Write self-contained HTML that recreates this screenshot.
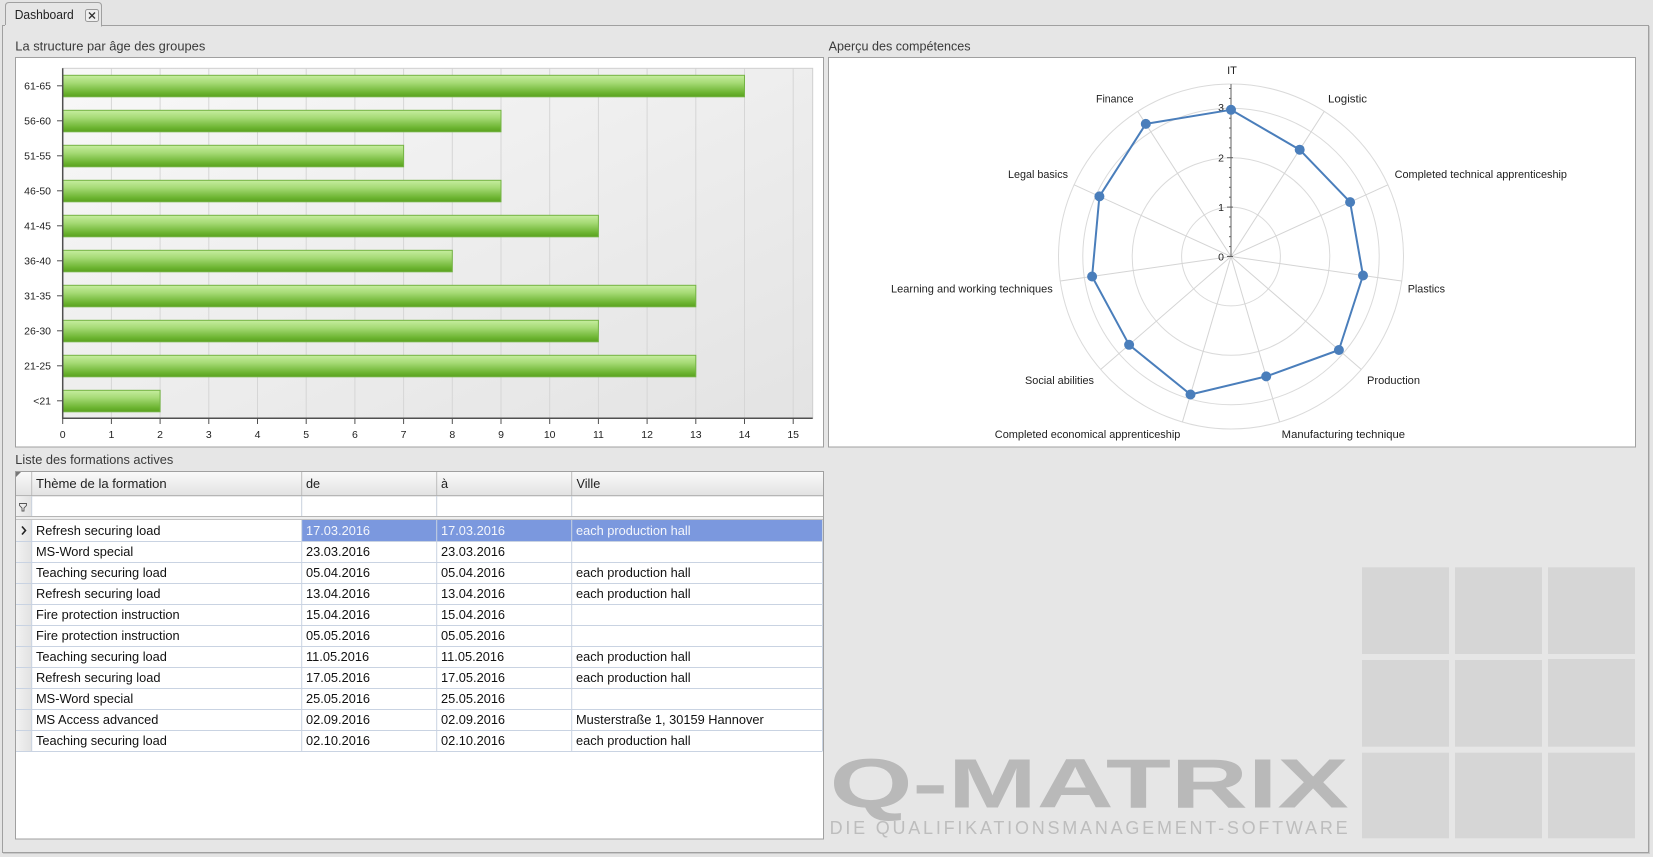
<!DOCTYPE html>
<html><head><meta charset="utf-8"><style>
html,body{margin:0;padding:0;background:#e4e4e4;}
svg{display:block;font-family:"Liberation Sans",sans-serif;}
</style></head><body>
<svg width="1653" height="857" viewBox="0 0 1653 857" xmlns="http://www.w3.org/2000/svg">
<defs>
<linearGradient id="bar" x1="0" y1="0" x2="0" y2="1">
<stop offset="0" stop-color="#c6ed9f"/><stop offset="0.35" stop-color="#a6da76"/><stop offset="0.8" stop-color="#6db532"/><stop offset="1" stop-color="#5aa11f"/>
</linearGradient>
<linearGradient id="plot" x1="0" y1="0" x2="1" y2="1">
<stop offset="0" stop-color="#f8f8f8"/><stop offset="1" stop-color="#e3e3e3"/>
</linearGradient>
<linearGradient id="hdr" x1="0" y1="0" x2="0" y2="1">
<stop offset="0" stop-color="#fafafa"/><stop offset="1" stop-color="#e2e2e2"/>
</linearGradient>
<linearGradient id="ind" x1="0" y1="0" x2="1" y2="0">
<stop offset="0" stop-color="#f2f2f2"/><stop offset="1" stop-color="#e2e2e2"/>
</linearGradient>
</defs>
<rect x="0" y="0" width="1653" height="857" fill="#e4e4e4"/>
<!-- frame -->
<rect x="3.5" y="26.5" width="1646" height="827" fill="none" stroke="#c8c8c8" stroke-width="1"/>
<rect x="2.5" y="25.5" width="1646" height="827" fill="#e6e6e6" stroke="#a0a0a0" stroke-width="1"/>
<!-- tab -->
<path d="M5.5,26 L5.5,6 Q5.5,2.5 9,2.5 L98,2.5 Q101.5,2.5 101.5,6 L101.5,26 Z" fill="#e6e6e6" stroke="#a0a0a0" stroke-width="1"/>
<rect x="5" y="25" width="96" height="2" fill="#e6e6e6"/>
<text x="14.7" y="19" font-size="12.5" fill="#222" textLength="59" lengthAdjust="spacingAndGlyphs">Dashboard</text>
<rect x="85.5" y="9.5" width="13" height="12" rx="2" fill="#efefef" stroke="#9a9a9a"/>
<path d="M89,12.5 L95,18.5 M95,12.5 L89,18.5" stroke="#333" stroke-width="1.3"/>

<!-- titles -->
<text x="15.3" y="50.5" font-size="12.5" fill="#3a3a3a" textLength="190" lengthAdjust="spacingAndGlyphs">La structure par âge des groupes</text>
<text x="828.6" y="50.5" font-size="12.5" fill="#3a3a3a" textLength="142" lengthAdjust="spacingAndGlyphs">Aperçu des compétences</text>
<text x="15.3" y="464" font-size="12.5" fill="#3a3a3a" textLength="158" lengthAdjust="spacingAndGlyphs">Liste des formations actives</text>

<!-- BAR CHART PANEL -->
<rect x="15.5" y="57.5" width="808" height="389.5" fill="#fff" stroke="#a0a0a0"/>
<rect x="62.7" y="68.3" width="750" height="350" fill="url(#plot)" stroke="#cfcfcf" stroke-width="1"/>
<g stroke="#d6d6d6" stroke-width="1">
<line x1="111.4" y1="68.5" x2="111.4" y2="418"/><line x1="160.1" y1="68.5" x2="160.1" y2="418"/><line x1="208.8" y1="68.5" x2="208.8" y2="418"/><line x1="257.5" y1="68.5" x2="257.5" y2="418"/><line x1="306.2" y1="68.5" x2="306.2" y2="418"/><line x1="354.9" y1="68.5" x2="354.9" y2="418"/><line x1="403.6" y1="68.5" x2="403.6" y2="418"/><line x1="452.3" y1="68.5" x2="452.3" y2="418"/><line x1="501" y1="68.5" x2="501" y2="418"/><line x1="549.7" y1="68.5" x2="549.7" y2="418"/><line x1="598.4" y1="68.5" x2="598.4" y2="418"/><line x1="647.1" y1="68.5" x2="647.1" y2="418"/><line x1="695.8" y1="68.5" x2="695.8" y2="418"/><line x1="744.5" y1="68.5" x2="744.5" y2="418"/><line x1="793.2" y1="68.5" x2="793.2" y2="418"/>
</g>
<g fill="url(#bar)" stroke="#74b344" stroke-width="1">
<rect x="63" y="75.3" width="681.5" height="21.5"/>
<rect x="63" y="110.3" width="438" height="21.5"/>
<rect x="63" y="145.3" width="340.6" height="21.5"/>
<rect x="63" y="180.3" width="438" height="21.5"/>
<rect x="63" y="215.3" width="535.4" height="21.5"/>
<rect x="63" y="250.3" width="389.3" height="21.5"/>
<rect x="63" y="285.3" width="632.8" height="21.5"/>
<rect x="63" y="320.3" width="535.4" height="21.5"/>
<rect x="63" y="355.3" width="632.8" height="21.5"/>
<rect x="63" y="390.3" width="97.1" height="21.5"/>
</g>
<!-- axes -->
<line x1="62.7" y1="68.3" x2="62.7" y2="418.5" stroke="#505050" stroke-width="1.5"/>
<line x1="62" y1="418.3" x2="812.7" y2="418.3" stroke="#505050" stroke-width="1.5"/>
<g stroke="#505050" stroke-width="1">
<line x1="57" y1="85.8" x2="62" y2="85.8"/><line x1="57" y1="120.8" x2="62" y2="120.8"/><line x1="57" y1="155.8" x2="62" y2="155.8"/><line x1="57" y1="190.8" x2="62" y2="190.8"/><line x1="57" y1="225.8" x2="62" y2="225.8"/><line x1="57" y1="260.8" x2="62" y2="260.8"/><line x1="57" y1="295.8" x2="62" y2="295.8"/><line x1="57" y1="330.8" x2="62" y2="330.8"/><line x1="57" y1="365.8" x2="62" y2="365.8"/><line x1="57" y1="400.8" x2="62" y2="400.8"/>
<line x1="62.7" y1="419" x2="62.7" y2="424"/><line x1="111.4" y1="419" x2="111.4" y2="424"/><line x1="160.1" y1="419" x2="160.1" y2="424"/><line x1="208.8" y1="419" x2="208.8" y2="424"/><line x1="257.5" y1="419" x2="257.5" y2="424"/><line x1="306.2" y1="419" x2="306.2" y2="424"/><line x1="354.9" y1="419" x2="354.9" y2="424"/><line x1="403.6" y1="419" x2="403.6" y2="424"/><line x1="452.3" y1="419" x2="452.3" y2="424"/><line x1="501" y1="419" x2="501" y2="424"/><line x1="549.7" y1="419" x2="549.7" y2="424"/><line x1="598.4" y1="419" x2="598.4" y2="424"/><line x1="647.1" y1="419" x2="647.1" y2="424"/><line x1="695.8" y1="419" x2="695.8" y2="424"/><line x1="744.5" y1="419" x2="744.5" y2="424"/><line x1="793.2" y1="419" x2="793.2" y2="424"/>
</g>
<g font-size="10.5" fill="#222" text-anchor="end">
<text x="51" y="89.5">61-65</text><text x="51" y="124.5">56-60</text><text x="51" y="159.5">51-55</text><text x="51" y="194.5">46-50</text><text x="51" y="229.5">41-45</text><text x="51" y="264.5">36-40</text><text x="51" y="299.5">31-35</text><text x="51" y="334.5">26-30</text><text x="51" y="369.5">21-25</text><text x="51" y="404.5">&lt;21</text>
</g>
<g font-size="10.5" fill="#222" text-anchor="middle">
<text x="62.7" y="438">0</text><text x="111.4" y="438">1</text><text x="160.1" y="438">2</text><text x="208.8" y="438">3</text><text x="257.5" y="438">4</text><text x="306.2" y="438">5</text><text x="354.9" y="438">6</text><text x="403.6" y="438">7</text><text x="452.3" y="438">8</text><text x="501" y="438">9</text><text x="549.7" y="438">10</text><text x="598.4" y="438">11</text><text x="647.1" y="438">12</text><text x="695.8" y="438">13</text><text x="744.5" y="438">14</text><text x="793.2" y="438">15</text>
</g>

<!-- RADAR PANEL -->
<rect x="828.5" y="57.5" width="807" height="389.5" fill="#fff" stroke="#a0a0a0"/>
<g fill="none" stroke="#dadada" stroke-width="1">
<circle cx="1231" cy="256.5" r="49.4"/><circle cx="1231" cy="256.5" r="98.8"/><circle cx="1231" cy="256.5" r="148.2"/><circle cx="1231" cy="256.5" r="172.5"/>
</g>
<g stroke="#d4d4d4" stroke-width="1">
<line x1="1231" y1="256.5" x2="1231" y2="84" transform="rotate(32.73 1231 256.5)"/>
<line x1="1231" y1="256.5" x2="1231" y2="84" transform="rotate(65.45 1231 256.5)"/>
<line x1="1231" y1="256.5" x2="1231" y2="84" transform="rotate(98.18 1231 256.5)"/>
<line x1="1231" y1="256.5" x2="1231" y2="84" transform="rotate(130.91 1231 256.5)"/>
<line x1="1231" y1="256.5" x2="1231" y2="84" transform="rotate(163.64 1231 256.5)"/>
<line x1="1231" y1="256.5" x2="1231" y2="84" transform="rotate(196.36 1231 256.5)"/>
<line x1="1231" y1="256.5" x2="1231" y2="84" transform="rotate(229.09 1231 256.5)"/>
<line x1="1231" y1="256.5" x2="1231" y2="84" transform="rotate(261.82 1231 256.5)"/>
<line x1="1231" y1="256.5" x2="1231" y2="84" transform="rotate(294.55 1231 256.5)"/>
<line x1="1231" y1="256.5" x2="1231" y2="84" transform="rotate(327.27 1231 256.5)"/>
</g>
<!-- IT axis -->
<line x1="1231" y1="256.5" x2="1231" y2="84" stroke="#606060" stroke-width="1"/>
<g stroke="#606060" stroke-width="1">
<line x1="1227" y1="256.5" x2="1233" y2="256.5"/><line x1="1227" y1="207.1" x2="1233" y2="207.1"/><line x1="1227" y1="157.7" x2="1233" y2="157.7"/><line x1="1227" y1="108.3" x2="1233" y2="108.3"/>
<line x1="1229" y1="246.6" x2="1231" y2="246.6"/><line x1="1229" y1="236.7" x2="1231" y2="236.7"/><line x1="1229" y1="226.8" x2="1231" y2="226.8"/><line x1="1229" y1="217" x2="1231" y2="217"/>
<line x1="1229" y1="197.2" x2="1231" y2="197.2"/><line x1="1229" y1="187.3" x2="1231" y2="187.3"/><line x1="1229" y1="177.4" x2="1231" y2="177.4"/><line x1="1229" y1="167.6" x2="1231" y2="167.6"/>
<line x1="1229" y1="147.8" x2="1231" y2="147.8"/><line x1="1229" y1="137.9" x2="1231" y2="137.9"/><line x1="1229" y1="128" x2="1231" y2="128"/><line x1="1229" y1="118.2" x2="1231" y2="118.2"/>
<line x1="1229" y1="98.4" x2="1231" y2="98.4"/><line x1="1229" y1="88.5" x2="1231" y2="88.5"/>
</g>
<g font-size="10.5" fill="#222" text-anchor="end">
<text x="1224" y="260.5">0</text><text x="1224" y="211">1</text><text x="1224" y="161.5">2</text><text x="1224" y="111">3</text>
</g>
<polygon points="1231,109.8 1299.7,149.7 1350.1,202.1 1363,275.5 1338.9,350 1266.2,376.4 1190.5,394.5 1129.1,344.8 1092.1,276.5 1099.4,196.4 1145.8,123.9" fill="none" stroke="#4a7ebb" stroke-width="2" stroke-linejoin="round"/>
<g fill="#4a7ebb">
<circle cx="1231" cy="109.8" r="5"/><circle cx="1299.7" cy="149.7" r="5"/><circle cx="1350.1" cy="202.1" r="5"/><circle cx="1363" cy="275.5" r="5"/><circle cx="1338.9" cy="350" r="5"/><circle cx="1266.2" cy="376.4" r="5"/><circle cx="1190.5" cy="394.5" r="5"/><circle cx="1129.1" cy="344.8" r="5"/><circle cx="1092.1" cy="276.5" r="5"/><circle cx="1099.4" cy="196.4" r="5"/><circle cx="1145.8" cy="123.9" r="5"/>
</g>
<g font-size="11" fill="#222">
<text x="1232" y="74" text-anchor="middle">IT</text>
<text x="1096" y="102.3" textLength="37.5" lengthAdjust="spacingAndGlyphs">Finance</text>
<text x="1328" y="102.3" textLength="39" lengthAdjust="spacingAndGlyphs">Logistic</text>
<text x="1008" y="178" textLength="60" lengthAdjust="spacingAndGlyphs">Legal basics</text>
<text x="1394.6" y="178" textLength="172.4" lengthAdjust="spacingAndGlyphs">Completed technical apprenticeship</text>
<text x="1407.7" y="292.3" textLength="37.3" lengthAdjust="spacingAndGlyphs">Plastics</text>
<text x="891" y="292.3" textLength="161.8" lengthAdjust="spacingAndGlyphs">Learning and working techniques</text>
<text x="1025" y="384" textLength="69" lengthAdjust="spacingAndGlyphs">Social abilities</text>
<text x="1367" y="384" textLength="53" lengthAdjust="spacingAndGlyphs">Production</text>
<text x="994.8" y="438" textLength="185.6" lengthAdjust="spacingAndGlyphs">Completed economical apprenticeship</text>
<text x="1281.7" y="438" textLength="123.3" lengthAdjust="spacingAndGlyphs">Manufacturing technique</text>
</g>

<!-- LOGO -->
<g fill="#d6d6d6">
<rect x="1362" y="567.3" width="87" height="86.7"/><rect x="1455" y="567.3" width="87" height="86.7"/><rect x="1548" y="567.3" width="87" height="86.7"/>
<rect x="1362" y="660" width="87" height="86.7"/><rect x="1455" y="660" width="87" height="86.7"/><rect x="1548" y="659" width="87" height="87.7"/>
<rect x="1362" y="752.7" width="87" height="85.6"/><rect x="1455" y="752.7" width="87" height="85.6"/><rect x="1548" y="752.7" width="87" height="85.6"/>
</g>
<text x="829.6" y="807.3" font-size="70" font-weight="bold" fill="#b9b9b9" textLength="519" lengthAdjust="spacingAndGlyphs">Q-MATRIX</text>
<text x="829.6" y="834" font-size="18" fill="#bdbdbd" textLength="518" lengthAdjust="spacing">DIE QUALIFIKATIONSMANAGEMENT-SOFTWARE</text>

<!-- TABLE -->
<rect x="15.5" y="471.5" width="808" height="367.5" fill="#fff" stroke="#a0a0a0"/>
<rect x="16" y="472" width="807" height="23.7" fill="url(#hdr)"/>
<line x1="16" y1="495.7" x2="823" y2="495.7" stroke="#a8a8a8"/>
<g stroke="#bdbdbd">
<line x1="31.7" y1="472" x2="31.7" y2="495.5"/><line x1="301.7" y1="472" x2="301.7" y2="495.5"/><line x1="436.7" y1="472" x2="436.7" y2="495.5"/><line x1="571.7" y1="472" x2="571.7" y2="495.5"/>
</g>
<path d="M16,472 L21,472 L16,477 Z" fill="#777"/>
<!-- indicator column -->
<rect x="16" y="496.2" width="15.5" height="19.8" fill="url(#ind)"/>
<g stroke="#c8d1dd">
<line x1="31.7" y1="496" x2="31.7" y2="516"/><line x1="301.7" y1="496" x2="301.7" y2="516"/><line x1="436.7" y1="496" x2="436.7" y2="516"/><line x1="571.7" y1="496" x2="571.7" y2="516"/>
</g>
<path d="M19.5,503.5 L26.5,503.5 L26.5,505.5 L24,508 L24,511 L22,511 L22,508 L19.5,505.5 Z" fill="none" stroke="#555" stroke-width="0.9"/>
<rect x="16" y="516" width="807" height="4" fill="#efefef"/>
<line x1="16" y1="516.5" x2="823" y2="516.5" stroke="#b5b5b5"/>
<line x1="16" y1="519.5" x2="823" y2="519.5" stroke="#c4c4c4"/>
<!-- data rows -->
<rect x="16" y="520" width="15.7" height="231" fill="url(#ind)"/>
<rect x="302" y="520" width="520.5" height="21" fill="#7b98de"/>
<g stroke="#c9d3e2">
<line x1="16" y1="541.5" x2="822.5" y2="541.5"/><line x1="16" y1="562.5" x2="822.5" y2="562.5"/><line x1="16" y1="583.5" x2="822.5" y2="583.5"/><line x1="16" y1="604.5" x2="822.5" y2="604.5"/><line x1="16" y1="625.5" x2="822.5" y2="625.5"/><line x1="16" y1="646.5" x2="822.5" y2="646.5"/><line x1="16" y1="667.5" x2="822.5" y2="667.5"/><line x1="16" y1="688.5" x2="822.5" y2="688.5"/><line x1="16" y1="709.5" x2="822.5" y2="709.5"/><line x1="16" y1="730.5" x2="822.5" y2="730.5"/><line x1="16" y1="751.5" x2="822.5" y2="751.5"/>
<line x1="31.7" y1="520" x2="31.7" y2="751"/><line x1="301.7" y1="520" x2="301.7" y2="751"/><line x1="436.7" y1="520" x2="436.7" y2="751"/><line x1="571.7" y1="520" x2="571.7" y2="751"/><line x1="822.5" y1="520" x2="822.5" y2="751"/>
</g>
<path d="M22,526.5 L25.5,530.5 L22,534.5" fill="none" stroke="#222" stroke-width="1.6"/>
<g font-size="12.7" fill="#222">
<text x="36" y="488" textLength="130.7" lengthAdjust="spacingAndGlyphs">Thème de la formation</text>
<text x="306" y="488">de</text><text x="441" y="488">à</text><text x="576.5" y="488">Ville</text>
</g>
<g font-size="12.8" fill="#111">
<text x="36" y="535">Refresh securing load</text>
<text x="36" y="556">MS-Word special</text><text x="306" y="556">23.03.2016</text><text x="441" y="556">23.03.2016</text>
<text x="36" y="577">Teaching securing load</text><text x="306" y="577">05.04.2016</text><text x="441" y="577">05.04.2016</text><text x="576" y="577">each production hall</text>
<text x="36" y="598">Refresh securing load</text><text x="306" y="598">13.04.2016</text><text x="441" y="598">13.04.2016</text><text x="576" y="598">each production hall</text>
<text x="36" y="619">Fire protection instruction</text><text x="306" y="619">15.04.2016</text><text x="441" y="619">15.04.2016</text>
<text x="36" y="640">Fire protection instruction</text><text x="306" y="640">05.05.2016</text><text x="441" y="640">05.05.2016</text>
<text x="36" y="661">Teaching securing load</text><text x="306" y="661">11.05.2016</text><text x="441" y="661">11.05.2016</text><text x="576" y="661">each production hall</text>
<text x="36" y="682">Refresh securing load</text><text x="306" y="682">17.05.2016</text><text x="441" y="682">17.05.2016</text><text x="576" y="682">each production hall</text>
<text x="36" y="703">MS-Word special</text><text x="306" y="703">25.05.2016</text><text x="441" y="703">25.05.2016</text>
<text x="36" y="724">MS Access advanced</text><text x="306" y="724">02.09.2016</text><text x="441" y="724">02.09.2016</text><text x="576" y="724">Musterstraße 1, 30159 Hannover</text>
<text x="36" y="745">Teaching securing load</text><text x="306" y="745">02.10.2016</text><text x="441" y="745">02.10.2016</text><text x="576" y="745">each production hall</text>
</g>
<g font-size="12.8" fill="#f4f6fc">
<text x="306" y="535">17.03.2016</text><text x="441" y="535">17.03.2016</text><text x="576" y="535">each production hall</text>
</g>
</svg>
</body></html>
